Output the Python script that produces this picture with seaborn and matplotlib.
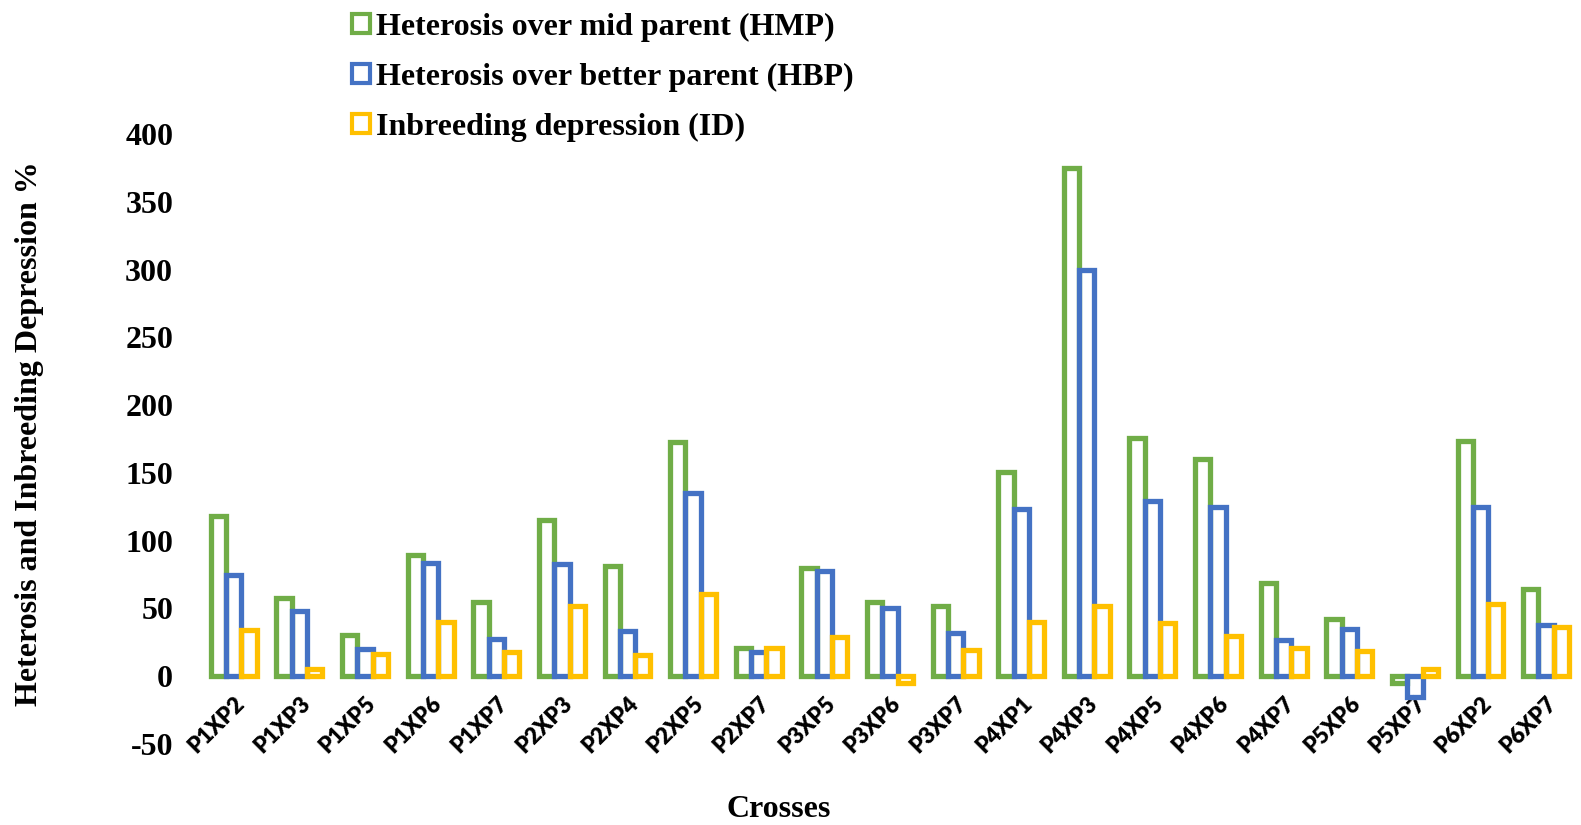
import numpy as np
import pandas as pd
import matplotlib
matplotlib.use("Agg")
import matplotlib.pyplot as plt
import matplotlib.patches as mpatches
import matplotlib.transforms as mtransforms
import seaborn as sns

crosses = ["P1XP2", "P1XP3", "P1XP5", "P1XP6", "P1XP7", "P2XP3", "P2XP4", "P2XP5",
           "P2XP7", "P3XP5", "P3XP6", "P3XP7", "P4XP1", "P4XP3", "P4XP5", "P4XP6",
           "P4XP7", "P5XP6", "P5XP7", "P6XP2", "P6XP7"]
hmp = [118, 58, 30.5, 89.5, 55, 115.5, 81, 173, 21, 80, 55, 52,
       151, 375, 176, 160, 69, 42, -5, 173.5, 64]
hbp = [74.5, 48, 20, 83.5, 27.5, 83, 33.5, 135, 18, 77.5, 50, 32,
       123.5, 299.5, 129.5, 125, 27, 35, -15, 125, 38]
id_vals = [34, 5, 16.5, 40, 18, 51.5, 15.5, 60.5, 21, 29, -5, 19.5,
           40, 51.5, 39, 30, 21, 18.5, 5, 53, 36.5]
series = ["Heterosis over mid parent (HMP)",
          "Heterosis over better parent (HBP)",
          "Inbreeding depression (ID)"]
yticks = [-50, 0, 50, 100, 150, 200, 250, 300, 350, 400]

colors = ["#70AD47", "#4472C4", "#FFC000"]

df = pd.DataFrame({"Cross": crosses, series[0]: hmp, series[1]: hbp, series[2]: id_vals})
long = df.melt(id_vars="Cross", var_name="Series", value_name="Value")

sns.set_style("white")
plt.rcParams.update({"text.color": "black", "axes.labelcolor": "black",
                     "xtick.color": "black", "ytick.color": "black"})
serif = ["Liberation Serif", "DejaVu Serif"]

fig = plt.figure(figsize=(15.81, 8.25), dpi=100)
ax = fig.add_axes([0.1271, 0.0982, 0.8716, 0.7394])

sns.barplot(data=long, x="Cross", y="Value", hue="Series", order=crosses,
            hue_order=series, palette=colors, fill=False, width=0.70,
            linewidth=3.8, errorbar=None, legend=False, ax=ax)

ax.set_ylim(-50, 400)
ax.set_xlim(-0.5, len(crosses) - 0.5)
ax.set_yticks(yticks)
ax.set_yticklabels([str(v) for v in yticks], fontfamily=serif, fontweight="bold", fontsize=23)
ax.tick_params(axis="y", length=0, pad=20)
ax.tick_params(axis="x", length=0, pad=-37)
ax.set_xticks(range(len(crosses)))
ax.set_xticklabels(crosses, rotation=45, ha="right", va="top", rotation_mode="anchor",
                   fontfamily="Lato", fontweight="heavy", fontsize=16)
offset = mtransforms.ScaledTranslation(0 / 72, 0, fig.dpi_scale_trans)
for lab in ax.get_xticklabels():
    lab.set_transform(lab.get_transform() + offset)

for s in ax.spines.values():
    s.set_visible(False)
ax.grid(False)

ax.set_ylabel("Heterosis and Inbreeding Depression %", fontfamily=serif,
              fontweight="bold", fontsize=23)
ax.yaxis.set_label_coords(-0.114, 0.509)
ax.set_xlabel("Crosses", fontfamily=serif, fontweight="bold", fontsize=23)
ax.xaxis.set_label_coords(0.419, -0.083)

handles = [mpatches.Patch(facecolor="white", edgecolor=c, linewidth=3.0) for c in colors]
fig.legend(handles, series, loc="upper left", bbox_to_anchor=(0.2085, 1.012),
           frameon=False, prop={"family": serif, "weight": "bold", "size": 23},
           handlelength=0.55, handleheight=0.55, handletextpad=0.2, labelspacing=0.66,
           borderpad=0.2)

fig.savefig("out.png", dpi=100)
